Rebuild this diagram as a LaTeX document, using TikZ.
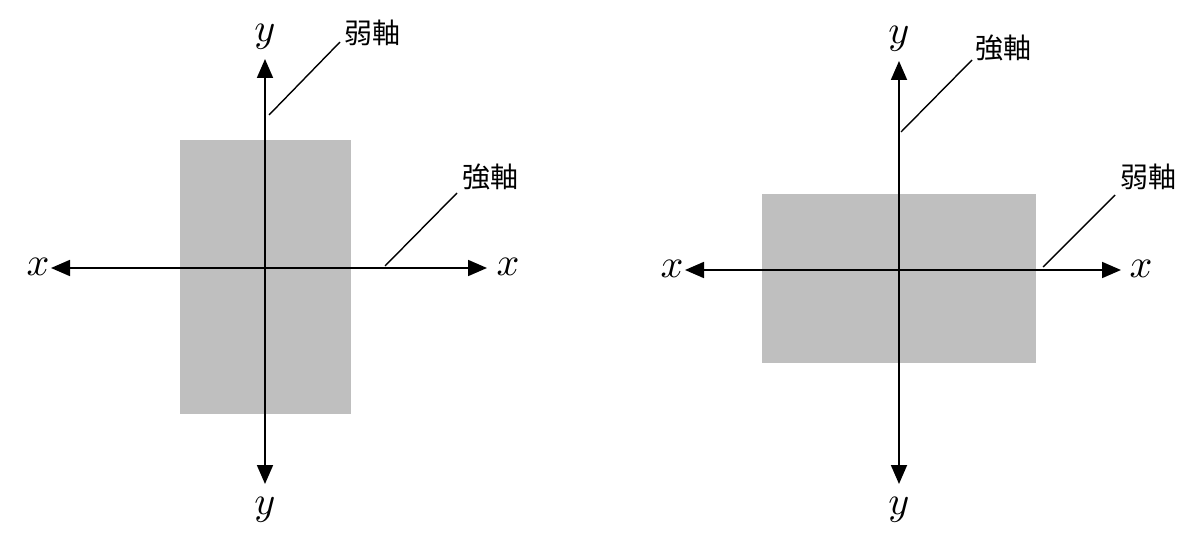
\documentclass[tikz,border=0pt]{standalone}
\usepackage{fontspec}
\newfontfamily\cjk{Noto Sans CJK JP}
\usetikzlibrary{arrows.meta}
\tikzset{
  axis/.style={line width=1.8pt, {Triangle[length=19pt,width=16pt]}-{Triangle[length=19pt,width=16pt]}},
  leader/.style={line width=1.4pt},
  var/.style={inner sep=0pt, scale=4},
  jlab/.style={inner sep=0pt, font=\cjk\fontsize{28}{28}\selectfont},
  section/.style={fill=black!25, draw=none}
}
\begin{document}
\begin{tikzpicture}[x=1pt,y=-1pt]
\useasboundingbox (0,0) rectangle (1200,548);
% ---------- left figure ----------
\fill[section] (180,140) rectangle (351,414);
\coordinate (Lyt) at (265,59);
\coordinate (Lyb) at (265,484);
\coordinate (Lxl) at (51,268);
\coordinate (Lxr) at (487,268);
\draw[axis] (Lxl) -- (Lxr);
\draw[axis] (Lyt) -- (Lyb);
\node[var] (Lytl) at (265,37) {$y$};
\node[var] (Lybl) at (265,510) {$y$};
\node[var] (Lxll) at (38,267) {$x$};
\node[var] (Lxrl) at (508,267) {$x$};
\node[jlab] (Lweak) at (372,33) {弱軸};
\node[jlab] (Lstrong) at (490,177) {強軸};
\coordinate (Lw1) at (269,115);
\coordinate (Lw2) at (340,42);
\coordinate (Ls1) at (385,266);
\coordinate (Ls2) at (457,193);
\draw[leader] (Lw1) -- (Lw2);
\draw[leader] (Ls1) -- (Ls2);
% ---------- right figure ----------
\fill[section] (762,194) rectangle (1036,363);
\coordinate (Ryt) at (899,61);
\coordinate (Ryb) at (899,484);
\coordinate (Rxl) at (685,270);
\coordinate (Rxr) at (1121,270);
\draw[axis] (Rxl) -- (Rxr);
\draw[axis] (Ryt) -- (Ryb);
\node[var] (Rytl) at (899,39) {$y$};
\node[var] (Rybl) at (899,510) {$y$};
\node[var] (Rxll) at (672,269) {$x$};
\node[var] (Rxrl) at (1141,269) {$x$};
\node[jlab] (Rstrong) at (1003,48) {強軸};
\node[jlab] (Rweak) at (1148,177) {弱軸};
\coordinate (Rs1) at (901,132);
\coordinate (Rs2) at (972,60);
\coordinate (Rw1) at (1043,267);
\coordinate (Rw2) at (1115,195);
\draw[leader] (Rs1) -- (Rs2);
\draw[leader] (Rw1) -- (Rw2);
\end{tikzpicture}
\end{document}
